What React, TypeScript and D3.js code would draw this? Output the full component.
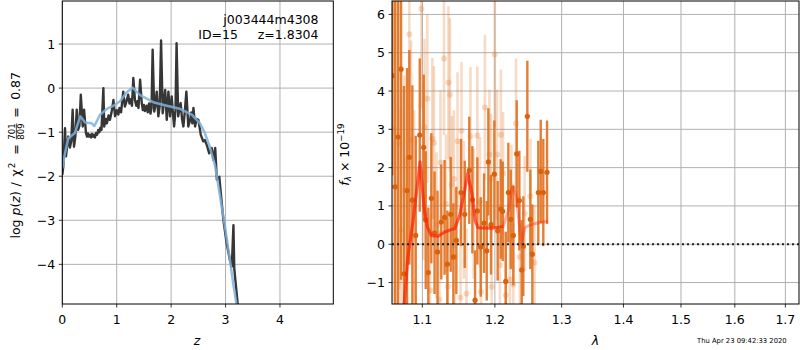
import React from 'react';
import * as d3 from 'd3';

const W = 800, H = 350;

// ---- left panel: p(z) ----
const zTicks = [0, 1, 2, 3, 4];
const lpTicks = [-4, -3, -2, -1, 0, 1];
const pzZ = [0.00,0.018,0.05,0.068,0.09,0.11,0.14,0.165,0.19,0.215,0.24,0.265,0.29,0.315,0.34,0.375,0.40,0.435,0.455,0.47,0.49,0.51,0.53,0.545,0.565,0.58,0.60,0.62,0.64,0.66,0.68,0.70,0.72,0.755,0.77,0.80,0.82,0.85,0.875,0.905,0.94,0.97,1.00,1.03,1.05,1.08,1.12,1.15,1.18,1.21,1.235,1.255,1.28,1.305,1.335,1.36,1.38,1.40,1.43,1.46,1.48,1.50,1.52,1.55,1.57,1.595,1.62,1.64,1.66,1.69,1.71,1.735,1.765,1.79,1.815,1.845,1.865,1.89,1.92,1.95,1.98,2.01,2.035,2.055,2.08,2.10,2.13,2.155,2.175,2.20,2.225,2.25,2.28,2.315,2.35,2.37,2.39,2.41,2.44,2.47,2.50,2.525,2.545,2.59,2.62,2.655,2.70,2.745,2.775,2.81,2.84,2.885,2.91,2.96,3.02,3.08,3.115,3.145,3.16,3.215,3.27];
const pzLog = [-1.97,-1.78,-0.91,-1.55,-1.3,-1.1,-1.35,-1.2,-0.49,-1.33,-1.1,-0.49,-0.95,-0.85,-0.15,-0.87,-0.49,-1.02,-1.1,-1.03,-1.1,-1.06,-1.12,-1.04,-1.1,-1.06,-1.12,-1.02,-1.06,-0.95,-1.0,-0.9,-0.95,0.0,-0.87,-0.7,-0.8,-0.62,-0.72,-0.55,-0.27,-0.64,-0.5,-0.6,-0.45,-0.55,-0.08,-0.42,-0.3,-0.15,-0.35,-0.25,-0.4,0.23,-0.27,-0.4,-0.3,-0.45,0.19,-0.34,-0.5,-0.38,-0.52,-0.4,-0.55,-0.35,-0.58,-0.45,0.87,-0.53,-0.4,-0.08,-0.64,-0.4,1.08,-0.57,-0.35,-0.04,-0.72,-0.08,-0.64,-0.19,-0.6,-0.87,-0.5,1.02,-0.64,-0.45,-0.34,-0.7,-0.87,-0.55,-0.08,-0.87,-0.72,-0.55,-0.8,-0.45,-0.87,-0.7,-0.72,-0.9,-1.06,-1.21,-1.18,-1.29,-1.48,-1.36,-1.63,-1.36,-2.08,-2.01,-2.35,-2.99,-3.52,-3.9,-4.05,-3.11,-4.09,-4.8,-5.5];
const smZ = [0.0,0.05,0.11,0.17,0.23,0.33,0.42,0.54,0.59,0.69,0.82,0.94,1.06,1.18,1.29,1.43,1.67,1.92,2.16,2.38,2.53,2.62,2.71,2.81,2.90,2.99,3.08,3.14,3.20,3.28];
const smLog = [-1.82,-1.48,-1.14,-1.08,-1.02,-0.64,-0.78,-0.8,-0.86,-0.61,-0.47,-0.40,-0.30,-0.10,0.01,-0.16,-0.32,-0.40,-0.47,-0.60,-0.80,-1.02,-1.33,-1.78,-2.46,-3.15,-3.9,-4.43,-4.9,-5.6];

// ---- right panel: spectrum ----
const lamTicks = [1.1, 1.2, 1.3, 1.4, 1.5, 1.6, 1.7];
const fTicks = [-1, 0, 1, 2, 3, 4, 5, 6];
const darkLam = [1.061,1.0646,1.0684,1.0723,1.0761,1.0800,1.0830,1.0869,1.0913,1.0966,1.1018,1.1045,1.1079,1.1119,1.1162,1.1202,1.1253,1.1297,1.1335,1.1381,1.1417,1.1458,1.1522,1.1574,1.1637,1.1680,1.1718,1.1750,1.1798,1.1845,1.1883,1.1906,1.1944,1.1992,1.2040,1.2084,1.2113,1.2157,1.2195,1.2230,1.2268,1.2318,1.2357,1.2392,1.2416,1.2476,1.2521,1.2551,1.2641,1.2678,1.2717,1.2774];
const darkFlux = [4.4,1.5,2.8,4.57,-0.77,1.4,2.27,1.15,0.23,2.85,2.53,0.63,-0.74,1.2,0.3,-0.2,0.58,0.70,-0.52,0.78,-0.33,0.1,1.35,0.78,1.93,1.16,-1.46,0.87,-0.07,0.55,-0.17,2.15,0.51,1.83,0.35,0.92,0.86,-0.97,1.35,0.65,0.23,2.36,1.14,-0.67,-0.05,3.34,0.65,-0.26,1.35,1.90,1.35,1.88];
const darkErr = [2.6,6.0,5.0,5.5,4.9,3.2,2.8,3.0,2.6,2.0,1.9,1.8,1.7,1.7,1.6,1.6,1.5,1.5,1.4,1.5,1.4,1.4,1.4,1.4,1.4,1.4,1.3,1.4,1.3,1.3,1.3,1.4,1.3,1.4,1.3,1.3,1.3,1.3,1.3,1.3,1.3,1.4,1.3,1.3,1.3,1.45,1.3,1.3,1.35,1.35,1.4,1.35];
const lightLam = [1.0620,1.0659,1.0701,1.0719,1.0761,1.0794,1.0830,1.0852,1.0891,1.0987,1.1013,1.1029,1.1066,1.1102,1.1132,1.1155,1.1188,1.1226,1.1242,1.1289,1.1316,1.1341,1.1350,1.1370,1.1397,1.1424,1.1438,1.1474,1.1515,1.1529,1.1561,1.1598,1.1653,1.1698,1.1750,1.1787,1.1801,1.1857,1.1922,1.1944,1.1954,1.1998,1.2030,1.2072,1.2086,1.2119,1.2157,1.2218,1.2240,1.2268,1.2307,1.2363,1.2435,1.2522,1.2584];
const lightFlux = [3.0,1.5,2.63,0.37,1.41,-0.5,5.48,2.72,1.0,6.15,1.89,3.06,3.8,-1.2,2.76,2.65,0.5,-1.44,2.13,4.85,1.06,-1.1,4.22,3.9,1.55,1.7,-0.33,2.69,-1.4,2.96,0.9,-1.29,2.82,0.8,2.84,1.1,-1.24,3.57,2.34,1.71,-1.11,4.96,2.34,-0.55,2.86,1.85,-1.33,-0.92,1.0,-1.05,3.15,-0.33,0.8,1.25,-0.48];
const lightErr = [4.5,5.0,3.8,3.2,3.0,2.8,3.0,2.6,2.5,2.6,2.3,2.3,2.2,2.0,2.1,2.0,1.9,1.8,1.9,2.0,1.8,1.8,2.0,2.0,1.8,1.8,1.8,1.8,1.8,1.8,1.8,1.7,1.8,1.7,1.8,1.7,1.7,1.9,1.7,1.7,1.7,1.9,1.7,1.6,1.7,1.6,1.6,1.6,1.6,1.6,1.7,1.6,1.5,1.5,1.5];
const modelLam = [1.072,1.0761,1.0813,1.0878,1.0921,1.0970,1.1022,1.1066,1.1119,1.1209,1.1300,1.1367,1.1436,1.1504,1.1574,1.1613,1.1675,1.1722,1.1760,1.1948,1.2118,1.2191,1.2240,1.2264,1.2313,1.2363,1.2387,1.2437,1.2512,1.2637,1.2789];
const modelFlux = [-2.6,-1.6,-0.3,0.6,1.32,2.15,0.97,0.45,0.23,0.21,0.32,0.37,0.41,0.76,1.41,1.85,1.32,0.6,0.43,0.42,0.46,0.85,1.4,1.52,1.25,0.42,0.03,0.43,0.5,0.56,0.6];

const FONT = 'DejaVu Sans, sans-serif';
const fmt = (t: number) => (t < 0 ? '\u2212' + Math.abs(t) : String(t));

export default function App() {
  const L = { x0: 62.3, x1: 333.3, y0: 1, y1: 304 };
  const R = { x0: 392, x1: 799, y0: 1, y1: 304 };
  const xL = d3.scaleLinear().domain([0, 4.98]).range([L.x0, L.x1]);
  const yL = d3.scaleLinear().domain([-4.9, 1.977]).range([L.y1, L.y0]);
  const xR = d3.scaleLog().domain([1.0607, 1.728]).range([R.x0, R.x1]);
  const yR = d3.scaleLinear().domain([-1.56, 6.35]).range([R.y1, R.y0]);

  const pzLine = d3.line<number>().x(i => xL(pzZ[i])).y(i => yL(pzLog[i]))(d3.range(pzZ.length)) || '';
  const smLine = d3.line<number>().x(i => xL(smZ[i])).y(i => yL(smLog[i]))(d3.range(smZ.length)) || '';
  const modelIdx = d3.range(modelLam.length);
  const mLine = d3.line<number>().x(i => xR(modelLam[i])).y(i => yR(modelFlux[i]));
  const modelAll = mLine(modelIdx) || '';
  const modelMain = mLine(modelIdx.filter(i => modelLam[i] <= 1.2118)) || '';

  const grid = '#b0b0b0';
  const fs = 12.5;

  return (
    <svg width={W} height={H} style={{ position: 'absolute', left: 0, top: 0, background: '#fff' }} fontFamily={FONT}>
      <defs>
        <clipPath id="clipL"><rect x={L.x0} y={L.y0} width={L.x1 - L.x0} height={L.y1 - L.y0} /></clipPath>
        <clipPath id="clipR"><rect x={R.x0} y={R.y0} width={R.x1 - R.x0} height={R.y1 - R.y0} /></clipPath>
      </defs>
      <rect x={0} y={0} width={W} height={H} fill="#fff" />

      {/* ---------- LEFT PANEL ---------- */}
      <g>
        {zTicks.map(t => (
          <line key={'gx' + t} x1={xL(t)} x2={xL(t)} y1={L.y0} y2={L.y1} stroke={grid} strokeWidth={1} />
        ))}
        {lpTicks.map(t => (
          <line key={'gy' + t} x1={L.x0} x2={L.x1} y1={yL(t)} y2={yL(t)} stroke={grid} strokeWidth={1} />
        ))}
        <g clipPath="url(#clipL)">
          <path d={pzLine} fill="none" stroke="#363636" strokeWidth={2.4} strokeLinejoin="round" />
          <path d={smLine} fill="none" stroke="#7fb2dc" strokeWidth={2.5} opacity={0.85} strokeLinejoin="round" />
        </g>
        <rect x={L.x0} y={L.y0} width={L.x1 - L.x0} height={L.y1 - L.y0} fill="none" stroke="#000" strokeWidth={1} />
        {zTicks.map(t => (
          <g key={'tx' + t}>
            <line x1={xL(t)} x2={xL(t)} y1={L.y1} y2={L.y1 + 3.5} stroke="#000" strokeWidth={0.8} />
            <text x={xL(t)} y={324} fontSize={fs} textAnchor="middle">{fmt(t)}</text>
          </g>
        ))}
        {lpTicks.map(t => (
          <g key={'ty' + t}>
            <line x1={L.x0 - 3.5} x2={L.x0} y1={yL(t)} y2={yL(t)} stroke="#000" strokeWidth={0.8} />
            <text x={L.x0 - 7} y={yL(t)} dy="0.36em" fontSize={fs} textAnchor="end">{fmt(t)}</text>
          </g>
        ))}
        <text x={318.5} y={24} fontSize={fs} textAnchor="end">j003444m4308</text>
        <text x={238} y={38.5} fontSize={fs} textAnchor="end">ID=15</text>
        <text x={318.5} y={38.5} fontSize={fs} textAnchor="end">z=1.8304</text>
        <text x={197} y={345} fontSize={fs} textAnchor="middle" fontStyle="italic">z</text>
        <g transform="translate(20,152.5) rotate(-90)" fontSize={fs}>
          <text x={-86} y={0} textAnchor="start">log <tspan fontStyle="italic">p</tspan>(<tspan fontStyle="italic">z</tspan>)</text>
          <text x={-32} y={0} textAnchor="middle">/</text>
          <text x={-24} y={0} textAnchor="start">χ<tspan fontSize={8.75} dx={1} dy={-5}>2</tspan></text>
          <text x={3} y={0} textAnchor="middle">=</text>
          <text x={21} y={-5.5} fontSize={8.5} textAnchor="middle">701</text>
          <line x1={13} x2={29} y1={-3.6} y2={-3.6} stroke="#000" strokeWidth={0.7} />
          <text x={21} y={3.5} fontSize={8.5} textAnchor="middle">809</text>
          <text x={40} y={0} textAnchor="middle">=</text>
          <text x={80.5} y={0} textAnchor="end">0.87</text>
        </g>
      </g>

      {/* ---------- RIGHT PANEL ---------- */}
      <g>
        {lamTicks.map(t => (
          <line key={'rgx' + t} x1={xR(t)} x2={xR(t)} y1={R.y0} y2={R.y1} stroke={grid} strokeWidth={1} />
        ))}
        {fTicks.map(t => (
          <line key={'rgy' + t} x1={R.x0} x2={R.x1} y1={yR(t)} y2={yR(t)} stroke={grid} strokeWidth={1} />
        ))}
        <g clipPath="url(#clipR)">
          {lightLam.map((l, i) => (
            <line key={'le' + i} x1={xR(l)} x2={xR(l)} y1={yR(lightFlux[i] - lightErr[i])} y2={yR(lightFlux[i] + lightErr[i])}
              stroke="#e0701e" strokeOpacity={0.25} strokeWidth={2.6} />
          ))}
          {lightLam.map((l, i) => (
            <circle key={'lp' + i} cx={xR(l)} cy={yR(lightFlux[i])} r={3} fill="#e0701e" fillOpacity={0.25} />
          ))}
          {darkLam.map((l, i) => (
            <line key={'de' + i} x1={xR(l)} x2={xR(l)} y1={yR(darkFlux[i] - darkErr[i])} y2={yR(darkFlux[i] + darkErr[i])}
              stroke="#e0701e" strokeOpacity={0.9} strokeWidth={2.4} />
          ))}
          {darkLam.map((l, i) => (
            <circle key={'dp' + i} cx={xR(l)} cy={yR(darkFlux[i])} r={2.6} fill="#d9620c" />
          ))}
          <path d={modelAll} fill="none" stroke="#ff1a00" strokeOpacity={0.35} strokeWidth={3} strokeLinejoin="round" />
          <path d={modelMain} fill="none" stroke="#ff1a00" strokeOpacity={0.5} strokeWidth={3} strokeLinejoin="round" />
          <line x1={R.x0} x2={R.x1} y1={yR(0)} y2={yR(0)} stroke="#222" strokeWidth={2} strokeDasharray="2,3" />
        </g>
        <rect x={R.x0} y={R.y0} width={R.x1 - R.x0} height={R.y1 - R.y0} fill="none" stroke="#000" strokeWidth={1} />
        {lamTicks.map(t => (
          <g key={'rtx' + t}>
            <line x1={xR(t)} x2={xR(t)} y1={R.y1} y2={R.y1 + 3.5} stroke="#000" strokeWidth={0.8} />
            <text x={xR(t)} y={324} fontSize={fs} textAnchor="middle">{t.toFixed(1)}</text>
          </g>
        ))}
        {fTicks.map(t => (
          <g key={'rty' + t}>
            <line x1={R.x0 - 3.5} x2={R.x0} y1={yR(t)} y2={yR(t)} stroke="#000" strokeWidth={0.8} />
            <text x={R.x0 - 7} y={yR(t)} dy="0.36em" fontSize={fs} textAnchor="end">{fmt(t)}</text>
          </g>
        ))}
        <text x={595.5} y={345} fontSize={fs} textAnchor="middle" fontStyle="italic">λ</text>
        <g transform="translate(348.5,154.5) rotate(-90)" fontSize={fs}>
          <text x={0} y={0} textAnchor="middle">
            <tspan fontStyle="italic">f</tspan><tspan fontSize={8.75} dy={2.5} fontStyle="italic">λ</tspan><tspan dy={-2.5}> × 10</tspan><tspan fontSize={8.75} dy={-5}>−19</tspan>
          </text>
        </g>
        <text x={697} y={343} fontSize={6.8}>Thu Apr 23 09:42:33 2020</text>
      </g>
    </svg>
  );
}
